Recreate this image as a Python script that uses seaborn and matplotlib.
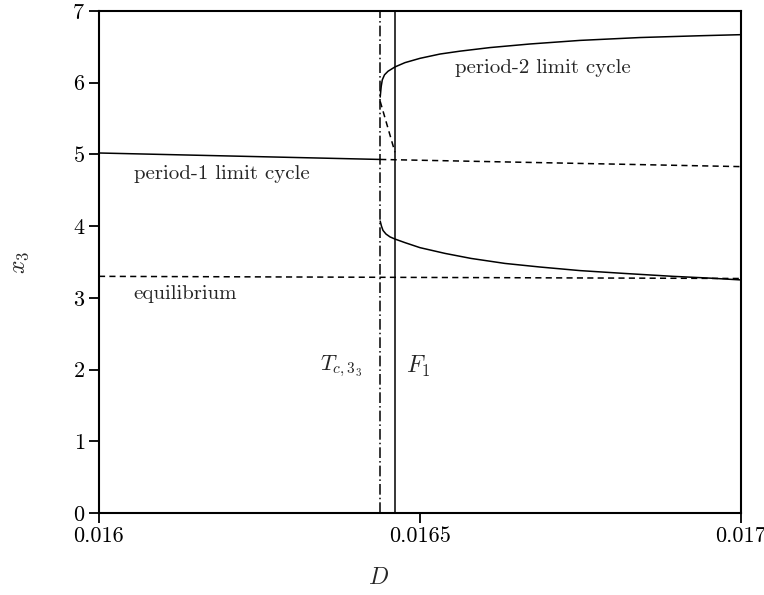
import matplotlib
matplotlib.use("Agg")
import matplotlib.pyplot as plt
import seaborn as sns
import pandas as pd

# --- bifurcation data (D, x3) ---
p1_stable_D = [0.016, 0.016438]
p1_stable_x = [5.02, 4.93]
p1_unstable_D = [0.016438, 0.017]
p1_unstable_x = [4.93, 4.83]

eq_D = [0.016, 0.017]
eq_x = [3.30, 3.27]

p2_upper_D = [0.016438, 0.0164396, 0.0164413, 0.0164447, 0.0164502, 0.016461,
              0.0164766, 0.0165000, 0.0165312, 0.0165623, 0.0166090, 0.0166713,
              0.0167492, 0.0168427, 0.0169361, 0.017]
p2_upper_x = [5.80, 5.95, 6.04, 6.11, 6.16, 6.22, 6.28, 6.34, 6.40, 6.44, 6.49,
              6.54, 6.59, 6.63, 6.655, 6.67]

p2_unstable_D = [0.016438, 0.016461]
p2_unstable_x = [5.74, 5.03]

p2_lower_D = [0.016438, 0.0164400, 0.0164424, 0.0164470, 0.0164533, 0.016461,
              0.0164766, 0.0165000, 0.0165389, 0.0165794, 0.0166324, 0.0166869,
              0.0167492, 0.0168193, 0.0168941, 0.0169517, 0.017]
p2_lower_x = [4.07, 4.00, 3.94, 3.89, 3.85, 3.82, 3.77, 3.70, 3.62, 3.55, 3.48,
              3.43, 3.38, 3.34, 3.30, 3.275, 3.25]

Tc_D = 0.016438
F1_D = 0.016461

x_ticks = [0.016, 0.0165, 0.017]
x_tick_labels = ["0.016", "0.0165", "0.017"]
y_ticks = [0, 1, 2, 3, 4, 5, 6, 7]

sns.set_style("ticks")
plt.rcParams["font.family"] = ["cmr10", "DejaVu Serif"]
plt.rcParams["mathtext.fontset"] = "cm"
plt.rcParams["axes.formatter.use_mathtext"] = True
plt.rcParams["axes.unicode_minus"] = False

fig = plt.figure(figsize=(7.64, 5.95), dpi=100)
ax = fig.add_axes([99 / 764, 1 - 513 / 595, 642 / 764, 502 / 595])

lw = 1.1
dash = (0, (4, 2.8))


def curve(D, x, ls="-"):
    df = pd.DataFrame({"D": D, "x3": x})
    sns.lineplot(data=df, x="D", y="x3", ax=ax, color="black", lw=lw,
                 linestyle=ls, estimator=None, sort=False, legend=False)


curve(p1_stable_D, p1_stable_x)
curve(p1_unstable_D, p1_unstable_x, dash)
curve(eq_D, eq_x, dash)
curve(p2_upper_D, p2_upper_x)
curve(p2_unstable_D, p2_unstable_x, dash)
curve(p2_lower_D, p2_lower_x)

# torus bifurcation and fold lines
curve([Tc_D, Tc_D], [0, 7], (0, (7, 2, 1, 2)))
curve([F1_D, F1_D], [0, 7])

ax.set_xlim(0.016, 0.017)
ax.set_ylim(0, 7)
ax.set_xticks(x_ticks)
ax.set_xticklabels(x_tick_labels)
ax.set_yticks(y_ticks)
ax.tick_params(direction="out", length=7, width=1.3, labelsize=16, pad=3,
               colors="black")
for s in ax.spines.values():
    s.set_linewidth(1.5)
    s.set_color("black")

ax.set_xlabel("")
ax.set_ylabel("")
fig.text(379 / 764, 1 - 578 / 595, r"$D$", fontsize=17, ha="center", va="center")
fig.text(20 / 764, 1 - 262 / 595, r"$x_3$", fontsize=17, ha="center", va="center",
         rotation=90)

ax.text(0.016054, 4.73, "period-1 limit cycle", fontsize=15, va="center", ha="left")
ax.text(0.016054, 3.05, "equilibrium", fontsize=15, va="center", ha="left")
ax.text(0.016555, 6.2, "period-2 limit cycle", fontsize=15, va="center", ha="left")
ax.text(0.016410, 2.04, r"$T_{c,3_3}$", fontsize=16, va="center", ha="right")
ax.text(0.016478, 2.04, r"$F_1$", fontsize=17, va="center", ha="left")

fig.savefig("out.png", dpi=100, facecolor="white")
